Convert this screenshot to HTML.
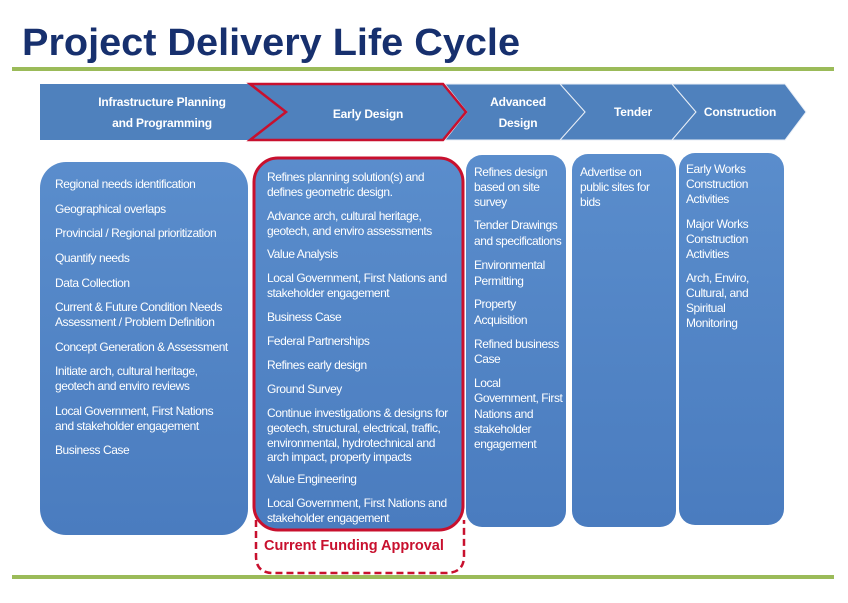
<!DOCTYPE html>
<html><head><meta charset="utf-8"><style>
html,body{margin:0;padding:0;background:#fff;}
svg{display:block;}
.t{font-family:"Liberation Sans",Arial,sans-serif;font-size:12px;fill:#fff;letter-spacing:-0.45px;}
.h{font-family:"Liberation Sans",Arial,sans-serif;font-size:12px;font-weight:bold;fill:#fff;letter-spacing:-0.2px;}
</style></head><body>
<svg width="848" height="603" viewBox="0 0 848 603" xmlns="http://www.w3.org/2000/svg">
<defs>
<linearGradient id="g" x1="0" y1="0" x2="0" y2="1"><stop offset="0" stop-color="#5a8dcc"/><stop offset="1" stop-color="#4a7cbf"/></linearGradient>
</defs>
<text x="22" y="55" font-family="Liberation Sans,Arial,sans-serif" font-size="38" font-weight="bold" fill="#17306e" textLength="498" lengthAdjust="spacingAndGlyphs">Project Delivery Life Cycle</text>
<rect x="12" y="67" width="822" height="4" fill="#9bbb59"/>
<rect x="12" y="575" width="822" height="4" fill="#9bbb59"/>

<polygon points="40,84 250,84 286,112 250,140 40,140" fill="#4f81bd"/>
<polygon points="560,84 672,84 696,112 672,140 560,140 585,112" fill="#4f81bd" stroke="#e8eef6" stroke-width="1"/>
<polygon points="672,84 785,84 806,112 785,140 672,140 696,112" fill="#4f81bd" stroke="#e8eef6" stroke-width="1"/>
<polygon points="445,84 560,84 585,112 560,140 445,140 467,112" fill="#4f81bd" stroke="#e8eef6" stroke-width="1"/>
<polygon points="250,84 443,84 466,112 443,140 250,140 286,112" fill="#4f81bd" stroke="#c8102e" stroke-width="2.5"/>
<text class="h" x="162" y="106" text-anchor="middle">Infrastructure Planning</text>
<text class="h" x="162" y="127" text-anchor="middle">and Programming</text>
<text class="h" x="368" y="118" text-anchor="middle">Early Design</text>
<text class="h" x="518" y="106" text-anchor="middle">Advanced</text>
<text class="h" x="518" y="127" text-anchor="middle">Design</text>
<text class="h" x="633" y="116" text-anchor="middle">Tender</text>
<text class="h" x="740" y="116" text-anchor="middle">Construction</text>

<rect x="40" y="162" width="208" height="373" rx="26" fill="url(#g)"/>
<rect x="254" y="158" width="209" height="372" rx="24" fill="url(#g)" stroke="#c8102e" stroke-width="3"/>
<rect x="466" y="155" width="100" height="372" rx="16" fill="url(#g)"/>
<rect x="572" y="154" width="104" height="373" rx="16" fill="url(#g)"/>
<rect x="679" y="153" width="105" height="372" rx="16" fill="url(#g)"/>

<path d="M256,520 L256,556 Q256,573 273,573 L446,573 Q464,573 464,556 L464,520" fill="none" stroke="#c8102e" stroke-width="2.5" stroke-dasharray="7,4"/>
<text x="264" y="550" font-family="Liberation Sans,Arial,sans-serif" font-size="14.5" font-weight="bold" fill="#c8102e">Current Funding Approval</text>

<g class="t">
<text x="55" y="188">Regional needs identification</text>
<text x="55" y="213">Geographical overlaps</text>
<text x="55" y="237">Provincial / Regional prioritization</text>
<text x="55" y="262">Quantify needs</text>
<text x="55" y="287">Data Collection</text>
<text x="55" y="311">Current &amp; Future Condition Needs</text>
<text x="55" y="326">Assessment /  Problem Definition</text>
<text x="55" y="351">Concept Generation &amp; Assessment</text>
<text x="55" y="375">Initiate arch, cultural heritage,</text>
<text x="55" y="390">geotech and enviro reviews</text>
<text x="55" y="415">Local Government, First Nations</text>
<text x="55" y="430">and stakeholder engagement</text>
<text x="55" y="454">Business Case</text>

<text x="267" y="181">Refines planning solution(s) and</text>
<text x="267" y="196">defines geometric design.</text>
<text x="267" y="220">Advance arch, cultural heritage,</text>
<text x="267" y="235">geotech, and enviro assessments</text>
<text x="267" y="258">Value Analysis</text>
<text x="267" y="282">Local Government, First Nations and</text>
<text x="267" y="297">stakeholder engagement</text>
<text x="267" y="321">Business Case</text>
<text x="267" y="345">Federal Partnerships</text>
<text x="267" y="369">Refines early design</text>
<text x="267" y="393">Ground Survey</text>
<text x="267" y="417">Continue investigations  &amp; designs for</text>
<text x="267" y="432">geotech, structural, electrical, traffic,</text>
<text x="267" y="447">environmental, hydrotechnical and</text>
<text x="267" y="461">arch impact, property impacts</text>
<text x="267" y="483">Value Engineering</text>
<text x="267" y="507">Local Government, First Nations and</text>
<text x="267" y="522">stakeholder engagement</text>

<text x="474" y="176">Refines design</text>
<text x="474" y="191">based on site</text>
<text x="474" y="206">survey</text>
<text x="474" y="229">Tender Drawings</text>
<text x="474" y="245">and specifications</text>
<text x="474" y="269">Environmental</text>
<text x="474" y="285">Permitting</text>
<text x="474" y="308">Property</text>
<text x="474" y="324">Acquisition</text>
<text x="474" y="348">Refined business</text>
<text x="474" y="363">Case</text>
<text x="474" y="387">Local</text>
<text x="474" y="402">Government, First</text>
<text x="474" y="418">Nations and</text>
<text x="474" y="433">stakeholder</text>
<text x="474" y="448">engagement</text>

<text x="580" y="176">Advertise on</text>
<text x="580" y="191">public sites for</text>
<text x="580" y="206">bids</text>

<text x="686" y="173">Early Works</text>
<text x="686" y="188">Construction</text>
<text x="686" y="203">Activities</text>
<text x="686" y="228">Major Works</text>
<text x="686" y="243">Construction</text>
<text x="686" y="258">Activities</text>
<text x="686" y="282">Arch, Enviro,</text>
<text x="686" y="297">Cultural, and</text>
<text x="686" y="312">Spiritual</text>
<text x="686" y="327">Monitoring</text>
</g>
</svg>
</body></html>
